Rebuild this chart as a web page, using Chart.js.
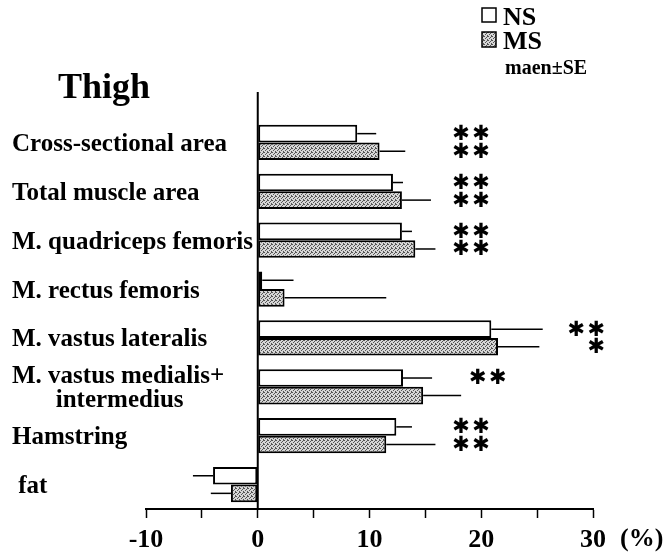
<!DOCTYPE html>
<html>
<head>
<meta charset="utf-8">
<script src="https://cdn.jsdelivr.net/npm/chart.js@4.4.1/dist/chart.umd.min.js"></script>
<style>
  html, body { margin: 0; padding: 0; background: #fff; }
</style>
</head>
<body>
<canvas id="thighChart" width="671" height="553"></canvas>
<script>
const pad = '\u00a0';
const categories = [
  'Cross-sectional area',
  'Total muscle area',
  'M. quadriceps femoris',
  'M. rectus femoris',
  'M. vastus lateralis',
  ['M. vastus medialis+', pad.repeat(7) + 'intermedius'],
  'Hamstring',
  pad + 'fat'
];
const nsMeans = [8.9, 12.1, 12.9, 0.4, 20.9, 13.0, 12.4, -4.0];
const nsSE    = [1.7, 0.9, 0.9, 2.8, 4.6, 2.6, 1.4, 1.8];
const msMeans = [10.9, 12.9, 14.1, 2.4, 21.5, 14.8, 11.5, -2.4];
const msSE    = [2.3, 2.6, 1.8, 9.1, 3.7, 3.4, 4.4, 1.8];
const nsStars = ['**', '**', '**', '', '**', '**', '**', ''];
const msStars = ['**', '**', '**', '', '*', '', '**', ''];
const starEdge = [20.7, 20.7, 20.7, null, 31.0, 22.2, 20.7, null]; // right end of the stars, in %
const xTickLabels = [-10, 0, 10, 20, 30];

const serif = "'Liberation Serif', 'Times New Roman', serif";

// grey stipple like the scanned figure
function stipple() {
  const c = document.createElement('canvas');
  c.width = 4; c.height = 4;
  const g = c.getContext('2d');
  g.fillStyle = '#d6d6d6';
  g.fillRect(0, 0, 4, 4);
  g.fillStyle = '#555';
  [[0, 0], [2, 1], [1, 2], [3, 3], [3, 0]].forEach(([a, b]) => g.fillRect(a, b, 1, 1));
  return g.createPattern(c, 'repeat');
}
const msFill = stipple();

const decorations = {
  id: 'decorations',
  beforeDatasetsDraw(chart) {
    const ctx = chart.ctx;
    const x0 = chart.scales.x.getPixelForValue(0);
    ctx.save();
    ctx.strokeStyle = '#000';
    ctx.lineWidth = 2;
    ctx.beginPath();
    ctx.moveTo(x0, chart.chartArea.top - 26);
    ctx.lineTo(x0, chart.chartArea.bottom);
    ctx.stroke();
    ctx.restore();
  },
  afterDatasetsDraw(chart) {
    const ctx = chart.ctx;
    const xs = chart.scales.x;
    ctx.save();
    // error bars (mean ± SE, one side only)
    ctx.strokeStyle = '#000';
    ctx.lineWidth = 1.5;
    [nsSE, msSE].forEach((se, di) => {
      const meta = chart.getDatasetMeta(di);
      const means = chart.data.datasets[di].data;
      meta.data.forEach((bar, i) => {
        const m = means[i];
        const end = xs.getPixelForValue(m + (m < 0 ? -se[i] : se[i]));
        ctx.beginPath();
        ctx.moveTo(bar.x, bar.y);
        ctx.lineTo(end, bar.y);
        ctx.stroke();
      });
    });
    // significance marks
    ctx.fillStyle = '#000';
    ctx.font = "bold 21px 'DejaVu Sans'";
    ctx.textAlign = 'center';
    ctx.textBaseline = 'middle';
    [nsStars, msStars].forEach((stars, di) => {
      const meta = chart.getDatasetMeta(di);
      stars.forEach((s, i) => {
        if (!s || starEdge[i] == null) return;
        const right = xs.getPixelForValue(starEdge[i]);
        for (let k = 0; k < s.length; k++) {
          ctx.fillText('\u2731', right - 8 - k * 20, meta.data[i].y + 1);
        }
      });
    });
    ctx.restore();
  },
  afterDraw(chart) {
    const ctx = chart.ctx;
    const xs = chart.scales.x;
    ctx.save();
    ctx.fillStyle = '#000';
    ctx.textBaseline = 'alphabetic';
    ctx.font = 'bold 36px ' + serif;
    ctx.fillText('Thigh', 58, 98);

    // legend
    ctx.strokeStyle = '#000';
    ctx.lineWidth = 1.5;
    ctx.fillStyle = '#fff';
    ctx.fillRect(482, 8, 14, 14);
    ctx.strokeRect(482, 8, 14, 14);
    ctx.fillStyle = msFill;
    ctx.fillRect(482, 32, 14, 15);
    ctx.strokeRect(482, 32, 14, 15);
    ctx.fillStyle = '#000';
    ctx.font = 'bold 26px ' + serif;
    ctx.fillText('NS', 503, 25);
    ctx.fillText('MS', 503, 49);
    ctx.font = 'bold 20px ' + serif;
    ctx.fillText('maen\u00b1SE', 505, 74);

    ctx.font = 'bold 26px ' + serif;
    ctx.textBaseline = 'top';
    ctx.fillText('(%)', xs.getPixelForValue(30) + 27, chart.chartArea.bottom + 17);
    ctx.restore();
  }
};

new Chart(document.getElementById('thighChart'), {
  type: 'bar',
  data: {
    labels: categories,
    datasets: [
      {
        label: 'NS',
        data: nsMeans,
        backgroundColor: '#fff',
        borderColor: '#000',
        borderWidth: 2,
        borderSkipped: false
      },
      {
        label: 'MS',
        data: msMeans,
        backgroundColor: msFill,
        borderColor: '#000',
        borderWidth: 2,
        borderSkipped: false
      }
    ]
  },
  options: {
    indexAxis: 'y',
    responsive: false,
    animation: false,
    categoryPercentage: 0.72,
    barPercentage: 1,
    layout: { padding: { left: 12, top: 118, right: 78, bottom: 0 } },
    plugins: {
      legend: { display: false },
      tooltip: { enabled: false }
    },
    scales: {
      x: {
        type: 'linear',
        min: -10,
        max: 30,
        afterFit(scale) { scale.height = 44; },
        grid: { drawOnChartArea: false, tickLength: 9, tickColor: '#000', tickWidth: 1.5 },
        border: { color: '#000', width: 2 },
        ticks: {
          stepSize: 5,
          autoSkip: false,
          maxRotation: 0,
          padding: 7,
          color: '#000',
          font: { family: serif, size: 26, weight: 'bold' },
          callback: v => xTickLabels.includes(v) ? v : ''
        }
      },
      y: {
        type: 'category',
        afterFit(scale) { scale.width = 134; },
        grid: { display: false },
        border: { display: false },
        ticks: {
          autoSkip: false,
          mirror: true,
          crossAlign: 'near',
          padding: -134,
          labelOffset: 2,
          color: '#000',
          font: { family: serif, size: 25, weight: 'bold', lineHeight: 0.95 }
        }
      }
    }
  },
  plugins: [decorations]
});
</script>
</body>
</html>
